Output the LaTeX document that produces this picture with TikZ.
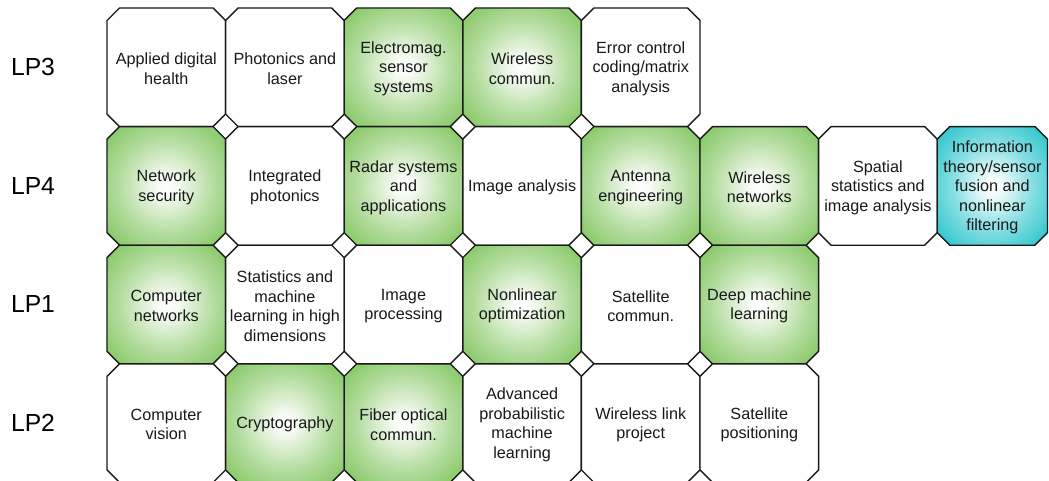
\documentclass[tikz,border=0pt]{standalone}
\usepackage{fontspec}
\setmainfont{Liberation Sans}
\definecolor{tgreen}{RGB}{118,192,80}
\definecolor{tteal}{RGB}{38,196,203}
\definecolor{ink}{RGB}{25,25,25}
\pgfdeclareradialshading{gshade}{\pgfpoint{0bp}{0bp}}{color(0bp)=(white); color(4bp)=(white!94!tgreen); color(20bp)=(white!45!tgreen); color(38bp)=(tgreen); color(72bp)=(tgreen!92!black)}
\pgfdeclareradialshading{tshade}{\pgfpoint{0bp}{0bp}}{color(0bp)=(white); color(4bp)=(white!94!tteal); color(18bp)=(white!45!tteal); color(34bp)=(tteal); color(72bp)=(tteal!92!black)}
\tikzset{
  octo/.style={draw=ink, line width=1.4pt, line join=miter},
  whitetile/.style={octo, fill=white},
  greentile/.style={octo, shading=gshade},
  tealtile/.style={octo, shading=tshade},
  tiletext/.style={align=center, text=ink, font=\fontsize{16.2}{19.5}\selectfont, inner sep=0pt},
  lplabel/.style={text=black, font=\fontsize{24.7}{28}\selectfont, inner sep=0pt}
}
% \tile{name}{left x}{top y}{width}{style}{text}
\newcommand{\tile}[6]{%
  \pgfmathsetmacro{\tx}{#2}\pgfmathsetmacro{\ty}{#3}%
  \pgfmathsetmacro{\tw}{#4}\pgfmathsetmacro{\th}{118.6}\pgfmathsetmacro{\tc}{12.5}%
  \path[#5] (\tx+\tc,\ty) -- (\tx+\tw-\tc,\ty) -- (\tx+\tw,\ty+\tc) -- (\tx+\tw,\ty+\th-\tc)
     -- (\tx+\tw-\tc,\ty+\th) -- (\tx+\tc,\ty+\th) -- (\tx,\ty+\th-\tc) -- (\tx,\ty+\tc) -- cycle;
  \node[tiletext] (#1) at (\tx+\tw/2,\ty+\th/2+1.5) {#6};%
}
\begin{document}
\begin{tikzpicture}[x=1pt,y=-1pt]
\useasboundingbox (0,0) rectangle (1049,481);
\clip (0,0) rectangle (1049,481);
\fill[white] (0,0) rectangle (1049,481);
% LP3
\tile{a1}{107}{8}{118.6}{whitetile}{Applied digital\\health}
\tile{a2}{225.6}{8}{118.6}{whitetile}{Photonics and\\laser}
\tile{a3}{344.2}{8}{118.6}{greentile}{Electromag.\\sensor\\systems}
\tile{a4}{462.8}{8}{118.6}{greentile}{Wireless\\commun.}
\tile{a5}{581.4}{8}{118.6}{whitetile}{Error control\\coding/matrix\\analysis}
% LP4
\tile{b1}{107}{126.6}{118.6}{greentile}{Network\\security}
\tile{b2}{225.6}{126.6}{118.6}{whitetile}{Integrated\\photonics}
\tile{b3}{344.2}{126.6}{118.6}{greentile}{Radar systems\\and\\applications}
\tile{b4}{462.8}{126.6}{118.6}{whitetile}{Image analysis}
\tile{b5}{581.4}{126.6}{118.6}{greentile}{Antenna\\engineering}
\tile{b6}{700}{126.6}{118.6}{greentile}{Wireless\\networks}
\tile{b7}{818.6}{126.6}{118.6}{whitetile}{Spatial\\statistics and\\image analysis}
\tile{b8}{937.2}{126.6}{110.3}{tealtile}{Information\\theory/sensor\\fusion and\\nonlinear\\filtering}
% LP1
\tile{c1}{107}{245.2}{118.6}{greentile}{Computer\\networks}
\tile{c2}{225.6}{245.2}{118.6}{whitetile}{Statistics and\\machine\\learning in high\\dimensions}
\tile{c3}{344.2}{245.2}{118.6}{whitetile}{Image\\processing}
\tile{c4}{462.8}{245.2}{118.6}{greentile}{Nonlinear\\optimization}
\tile{c5}{581.4}{245.2}{118.6}{whitetile}{Satellite\\commun.}
\tile{c6}{700}{245.2}{118.6}{greentile}{Deep machine\\learning}
% LP2
\tile{d1}{107}{363.8}{118.6}{whitetile}{Computer\\vision}
\tile{d2}{225.6}{363.8}{118.6}{greentile}{Cryptography}
\tile{d3}{344.2}{363.8}{118.6}{greentile}{Fiber optical\\commun.}
\tile{d4}{462.8}{363.8}{118.6}{whitetile}{Advanced\\probabilistic\\machine\\learning}
\tile{d5}{581.4}{363.8}{118.6}{whitetile}{Wireless link\\project}
\tile{d6}{700}{363.8}{118.6}{whitetile}{Satellite\\positioning}
% row labels
\node[lplabel] (lp3) at (33,67.3) {LP3};
\node[lplabel] (lp4) at (33,185.9) {LP4};
\node[lplabel] (lp1) at (33,304.5) {LP1};
\node[lplabel] (lp2) at (33,423.1) {LP2};
\end{tikzpicture}
\end{document}
